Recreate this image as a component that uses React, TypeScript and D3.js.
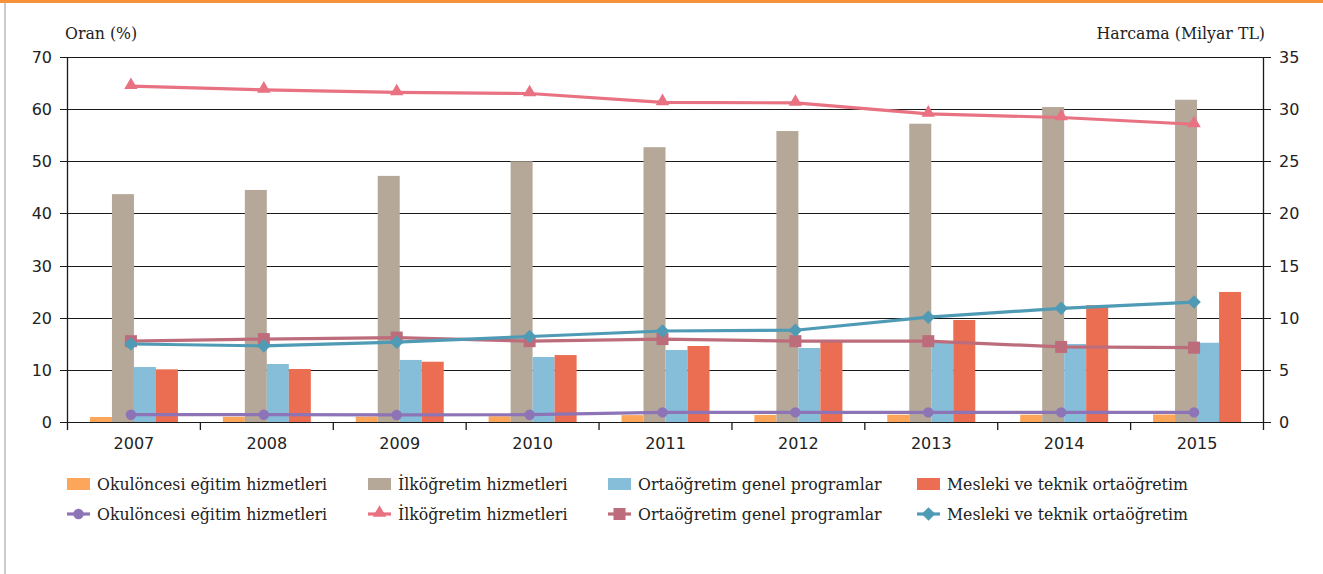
import React from 'react'
import * as d3 from 'd3'

const years = ['2007', '2008', '2009', '2010', '2011', '2012', '2013', '2014', '2015']

// spending, billion TL (right axis)
const okuloncesiHarcama = [0.48, 0.5, 0.52, 0.55, 0.66, 0.68, 0.7, 0.7, 0.72]
const ilkogretimHarcama = [21.85, 22.25, 23.6, 25.0, 26.35, 27.9, 28.6, 30.2, 30.9]
const ortaGenelHarcama = [5.27, 5.56, 5.95, 6.23, 6.9, 7.1, 7.6, 7.48, 7.6]
const meslekiHarcama = [5.05, 5.08, 5.78, 6.42, 7.29, 7.8, 9.78, 11.2, 12.47]

// share, % (left axis)
const okuloncesiOran = [1.4, 1.4, 1.35, 1.4, 1.85, 1.85, 1.85, 1.85, 1.85]
const ilkogretimOran = [64.4, 63.7, 63.2, 63.0, 61.3, 61.2, 59.1, 58.4, 57.1]
const ortaGenelOran = [15.5, 15.9, 16.2, 15.5, 15.9, 15.5, 15.5, 14.4, 14.25]
const meslekiOran = [14.96, 14.6, 15.3, 16.4, 17.45, 17.6, 20.1, 21.8, 23.0]

const seriesNames = [
  'Okulöncesi eğitim hizmetleri',
  'İlköğretim hizmetleri',
  'Ortaöğretim genel programlar',
  'Mesleki ve teknik ortaöğretim',
]

const leftTicks = [0, 10, 20, 30, 40, 50, 60, 70]
const rightTicks = [0, 5, 10, 15, 20, 25, 30, 35]

const barColors = ['#FBA65A', '#B5A898', '#86BDD8', '#EB6E52']
const lineColors = ['#8C74B7', '#E87182', '#BD6C7B', '#4F9BB5']

const W = 1323
const H = 574
const serif = '"DejaVu Serif Condensed", "DejaVu Serif", serif'
const sans = '"DejaVu Sans", "Open Sans", sans-serif'
const serifSize = 17.5

function marker(i: number, cx: number, cy: number, color: string, key?: string) {
  if (i === 0) return <circle key={key} cx={cx} cy={cy} r={5.2} fill={color} />
  if (i === 1) {
    const p = d3.symbol().type(d3.symbolTriangle).size(78)()
    return <path key={key} d={p || ''} transform={`translate(${cx},${cy - 1})`} fill={color} />
  }
  if (i === 2) return <rect key={key} x={cx - 6} y={cy - 6} width={12} height={12} fill={color} />
  return <rect key={key} x={cx - 4.8} y={cy - 4.8} width={9.6} height={9.6} fill={color}
    transform={`rotate(45 ${cx} ${cy})`} />
}

export default function App() {
  const m = { left: 67.5, right: W - 1263.5, top: 57, bottom: H - 422 }
  const x = d3.scaleBand().domain(years).range([m.left, W - m.right])
  const inner = d3.scaleBand().domain(['0', '1', '2', '3']).range([0, 88])
  const yL = d3.scaleLinear().domain([0, 70]).range([H - m.bottom, m.top])
  const yR = d3.scaleLinear().domain([0, 35]).range([H - m.bottom, m.top])
  const groupOff = (x.bandwidth() - 88) / 2
  const lineShift = -3

  const bars = [okuloncesiHarcama, ilkogretimHarcama, ortaGenelHarcama, meslekiHarcama]
  const lines = [okuloncesiOran, ilkogretimOran, ortaGenelOran, meslekiOran]

  const cx = (yr: string) => (x(yr) as number) + x.bandwidth() / 2 + lineShift
  const lineGen = d3.line<number>()
    .x((_, i) => cx(years[i]))
    .y(d => yL(d))

  const x0 = m.left
  const x1 = W - m.right
  const yBase = yL(0)

  const legendX = [67, 368, 608, 917]

  return (
    <svg width={W} height={H} style={{ position: 'absolute', left: 0, top: 0, background: '#fff' }}>
      <rect x={0} y={0} width={W} height={3} fill="#F7923A" />
      <rect x={4} y={3} width={2} height={H - 3} fill="#CCCCCC" />

      {/* axis titles */}
      <text x={65} y={39} fontFamily={serif} fontSize={serifSize} fill="#222">Oran (%)</text>
      <text x={1265} y={39} textAnchor="end" fontFamily={serif} fontSize={serifSize} fill="#222">Harcama (Milyar TL)</text>

      {/* grid */}
      {leftTicks.map(t => (
        <line key={'g' + t} x1={x0 - 7.5} x2={x1 + 7.5} y1={Math.round(yL(t)) + 0.5} y2={Math.round(yL(t)) + 0.5}
          stroke="#1a1a1a" strokeWidth={1} />
      ))}
      {leftTicks.map(t => (
        <text key={'l' + t} x={52} y={yL(t) + 6} textAnchor="end" fontFamily={sans} fontSize={16} fill="#222">{t}</text>
      ))}
      {rightTicks.map(t => (
        <text key={'r' + t} x={1279} y={yR(t) + 6} textAnchor="start" fontFamily={sans} fontSize={16} fill="#222">{t}</text>
      ))}

      {/* bars */}
      {bars.map((vals, s) => vals.map((v, i) => (
        <rect key={`b${s}-${i}`}
          x={(x(years[i]) as number) + groupOff + (inner(String(s)) as number)}
          y={yR(v)} width={inner.bandwidth()} height={yBase - yR(v)} fill={barColors[s]} />
      )))}

      {/* axes */}
      <line x1={x0} x2={x0} y1={m.top} y2={yBase + 8} stroke="#1a1a1a" strokeWidth={1.3} />
      <line x1={x1} x2={x1} y1={m.top} y2={yBase + 8} stroke="#1a1a1a" strokeWidth={1.3} />
      {years.map((yr, i) => i === 0 ? null : (
        <line key={'t' + yr} x1={x(yr)} x2={x(yr)} y1={yBase} y2={yBase + 8} stroke="#1a1a1a" strokeWidth={1.3} />
      ))}
      {years.map(yr => (
        <text key={'x' + yr} x={(x(yr) as number) + x.bandwidth() / 2} y={449} textAnchor="middle"
          fontFamily={sans} fontSize={16} fill="#222">{yr}</text>
      ))}

      {/* lines */}
      {lines.map((vals, s) => (
        <g key={'ln' + s}>
          <path d={lineGen(vals) || ''} fill="none" stroke={lineColors[s]} strokeWidth={3.2} strokeLinejoin="round" />
          {vals.map((v, i) => marker(s, cx(years[i]), yL(v), lineColors[s], `m${s}-${i}`))}
        </g>
      ))}

      {/* legend */}
      {seriesNames.map((name, s) => (
        <g key={'lg' + s}>
          <rect x={legendX[s]} y={478} width={23} height={12} fill={barColors[s]} />
          <text x={legendX[s] + 30} y={490} fontFamily={serif} fontSize={serifSize} fill="#222">{name}</text>
          <line x1={legendX[s]} x2={legendX[s] + 23} y1={514} y2={514} stroke={lineColors[s]} strokeWidth={3.2} />
          {marker(s, legendX[s] + 11.5, 514, lineColors[s])}
          <text x={legendX[s] + 30} y={520} fontFamily={serif} fontSize={serifSize} fill="#222">{name}</text>
        </g>
      ))}
    </svg>
  )
}
